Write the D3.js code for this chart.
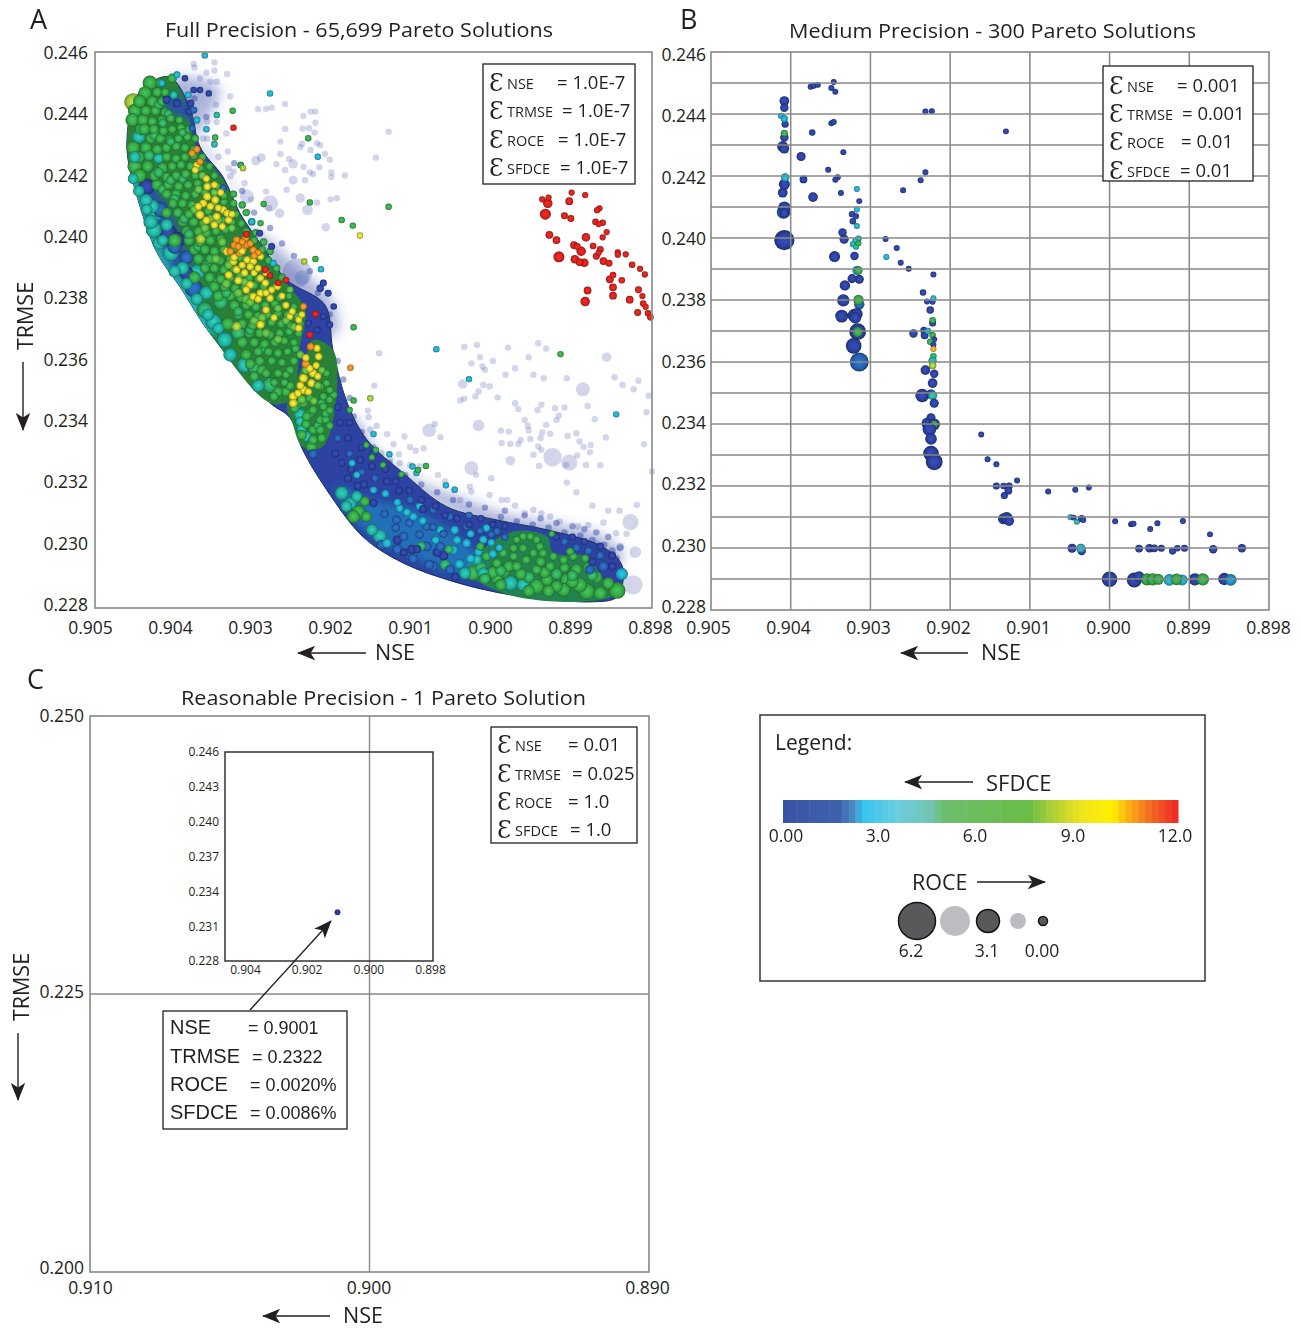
<!DOCTYPE html>
<html>
<head>
<meta charset="utf-8">
<script src="https://cdn.jsdelivr.net/npm/d3@7"></script>
<style>
body { margin: 0; background: white; }
text { font-family: "Open Sans", sans-serif; fill: #231f20; }
text.arial { font-family: "Liberation Sans", Arial, sans-serif; }
</style>
</head>
<body>
<script>
// values are nse x 1000, trmse x 1000, roce %, one array per sfdce level
const sfdceDeep = 0.4, sfdceBlue = 1.6, sfdceCyan = 2.8, sfdceTeal = 3.8, sfdceTealGreen = 4.6, sfdceSea = 4.9
const sfdceGreen = 5.5, sfdceLeaf = 7.2, sfdceLime = 8, sfdceYellow = 9, sfdceOrange = 10.4, sfdceRed = 11.8

const fullGreen = [
[904.31,245,2.2],[904.18,245,.8],[904.03,245.15,.8],[904.37,244.67,2],[904.22,244.7,1],[904.12,244.7,.6],
[904.44,244.4,1.8],[904.28,244.4,1.4],[904.16,244.4,.8],[904.5,244.1,2],[904.36,244.1,1.2],[904.24,244.1,1],[904.12,244.05,.7],
[904.53,243.8,2],[904.4,243.8,1.5],[904.28,243.75,1],[904.16,243.8,.8],[904.05,243.85,.6],[903.94,243.8,.5],
[904.38,243.5,1.4],[904.26,243.5,1],[904.14,243.45,.9],[904.03,243.5,.7],[903.92,243.55,.6],[903.82,243.5,.5],
[904.3,243.2,1.2],[904.18,243.2,1],[904.06,243.15,.9],[903.95,243.2,.7],[903.84,243.25,.6],[903.74,243.2,.4],
[904.52,242.9,2],[904.36,242.9,1.5],[904.22,242.85,1.1],[904.1,242.9,.9],[903.98,242.95,.8],[903.87,242.9,.7],[903.76,242.85,.5],
[904.45,242.6,1.6],[904.1,242.6,.9],[903.98,242.55,.8],[903.87,242.6,.7],[903.76,242.65,.6],[903.65,242.6,.4],
[904.5,242.3,2.2],[904.34,242.3,1.5],[904.15,242.25,1.2],[904.03,242.3,.8],[903.92,242.35,.8],[903.8,242.3,.7],[903.68,242.25,.5],[903.56,242.3,.4],
[904.44,242,2],[904.25,242,1.3],[904.1,241.95,1],[903.98,242,.8],[903.86,242.05,.8],[903.74,242,.6],[903.62,241.95,.5],[903.5,242,.4],
[904.22,241.7,1.4],[904.08,241.7,1],[903.95,241.65,.9],[903.83,241.7,.7],[903.71,241.75,.6],[903.58,241.7,.5],[903.46,241.65,.4],
[904.1,241.4,1],[903.98,241.4,1],[903.86,241.35,.8],[903.74,241.4,.7],[903.62,241.45,.6],[903.5,241.4,.5],[903.38,241.35,.4],[903.26,241.4,.3],
[904.02,241.1,.9],[903.9,241.1,.9],[903.78,241.05,.8],[903.5,241.1,.6],[903.38,241.15,.5],[903.26,241.1,.4],[903.15,241.05,.3],
[904.1,240.8,1.2],[903.96,240.8,1],[903.82,240.75,.8],[903.7,240.8,.8],[903.58,240.85,.7],[903.35,240.8,.5],[903.23,240.75,.4],[903.1,240.8,.3],
[903.9,240.5,1],[903.76,240.5,1],[903.64,240.45,.8],[903.52,240.5,.7],[903.4,240.55,.6],[903.28,240.5,.5],[903.16,240.45,.4],[903.03,240.5,.3],
[903.85,240.2,1.1],[903.7,240.2,1],[903.6,240.15,.9],[903.48,240.2,.7],[903.36,240.25,.6],[903.1,240.2,.4],[902.98,240.15,.3],
[904,239.9,2],[903.82,239.9,1.2],[903.68,239.85,1.1],[903.55,239.9,1],[903.42,239.95,.8],[903,239.9,.4],[902.88,239.85,.3],
[903.75,239.6,1.3],[903.62,239.6,1],[903.5,239.55,.9],[903.38,239.6,.8],[903.25,239.65,.7],[902.9,239.6,.4],[902.8,239.55,.3],
[903.7,239.3,1.2],[903.55,239.3,1],[903.43,239.25,.9],[903.3,239.3,.8],[903.18,239.35,.7],[903.06,239.3,.6],[902.82,239.25,.4],
[903.62,239,1],[903.5,239,.9],[903.38,238.95,.8],[903.26,239,.7],[903.14,239.05,.6],[902.72,239,.4],
[903.75,238.7,1.6],[903.56,238.7,1.2],[903.42,238.65,.9],[903.3,238.7,.8],[903.18,238.75,.7],[903.06,238.7,.6],[902.95,238.65,.5],[902.65,238.7,.4],
[903.5,238.4,1.2],[903.37,238.4,1],[903.24,238.35,.8],[903.12,238.4,.7],[903,238.45,.6],[902.88,238.4,.6],[902.76,238.35,.4],
[903.45,238.1,1.4],[903.3,238.1,1.1],[903.17,238.05,.9],[903.05,238.1,.8],[902.93,238.15,.7],[902.8,238.1,.6],[902.68,238.05,.5],[902.56,238.1,.3],
[903.25,237.8,1.2],[903.1,237.8,.9],[902.98,237.75,.8],[902.86,237.8,.7],[902.74,237.85,.6],[902.62,237.8,.5],[902.5,237.75,.4],
[903.2,237.5,1],[903.07,237.5,.9],[902.95,237.45,.8],[902.83,237.5,.7],[902.7,237.55,.6],[902.58,237.5,.5],[902.46,237.45,.4],
[903.33,237.2,1.8],[903.15,237.2,1],[903.02,237.15,.9],[902.9,237.2,.8],[902.78,237.25,.7],[902.66,237.2,.6],[902.54,237.15,.5],[902.42,237.2,.4],
[903.06,236.9,1],[902.93,236.9,.9],[902.8,236.85,.8],[902.68,236.9,.7],[902.56,236.95,.6],[902.44,236.9,.5],
[903.15,236.6,1.4],[903,236.6,1],[902.87,236.55,.8],[902.74,236.6,.7],[902.62,236.65,.6],[902.5,236.6,.5],
[902.95,236.3,.8],[902.82,236.3,.7],[902.7,236.25,.7],[902.58,236.3,.5],[902.93,236,.9],[902.78,236,.7],[902.65,235.95,.6],
[902.85,235.6,.8],[902.7,235.6,.7],[902.6,235.55,.5],[902.75,235.3,.6],[902.62,235.3,.5],
[902.09,235.6,.4],[902.17,235.17,.5],[902.05,235.06,.4],[902.3,234.79,.6],[902.13,234.85,.5],[902.38,234.63,.8],[902.26,234.41,.7],[902.13,234.52,.5],
[902.49,234.47,.8],[902.34,234.2,.8],[902.17,234.09,.6],[902.26,233.77,.8],[902.17,233.77,.7],[902.28,233.23,1.4],[902.26,233.44,.9],[902.05,234.74,.4],[902.09,235.28,.4],
[901.75,234.72,.05],[901.8,234.41,.05],[901.59,233.28,.05],[901.47,233.12,.05],[901.52,232.88,.05],[901.38,232.63,.05],[900.84,232.6,.05],[900.94,232.47,.05],[901.15,232.33,.05],[899.15,236.22,.05],[899.26,230.4,.1],
[903.27,244.1,.05],[903.49,243.23,.05],[903.17,242.34,.05],[902.32,243.21,.05],[902.88,241.08,.05],[902.3,241.13,.05],[902.92,240.46,.05],[901.9,240.56,.05],[901.76,240.38,.05],[902.23,239.3,.05],[901.31,240.99,.05],[901.75,237.09,.05],
[901.69,231.12,1.8],[901.61,231.45,1],[901.75,230.96,1.8],[901.59,230.96,1.2],
[900.25,229.13,2.4],[899.87,229.18,2],[899.45,228.7,2.4],[899.95,228.97,1.6],[899.32,228.91,1.6],[899.07,228.91,2],[898.91,228.75,2.4],[898.82,228.54,2.8],[898.65,228.48,2],[899.11,228.59,2],[898.44,228.57,2.8],
[899.7,230.21,.4],[899.62,230.32,.5],[899.53,230.32,.4],[899.45,230.21,.5],[899.41,229.99,.6],[899.62,229.94,.6],[899.74,229.94,.5],[899.49,229.78,.6],[899.37,229.78,.6],[899.58,229.56,.7],[899.74,229.67,.6],[899.87,229.78,.7],[900.08,229.67,.8],[900.16,229.99,.6],[899.95,229.45,.9],[899.24,229.67,.6],[899.11,229.56,.7],[898.99,229.67,.6],[898.84,229.61,.5],[899.03,229.83,.5],[899.28,229.35,.9],[899.45,229.24,1],[899.7,229.35,1],
[903.1,236.2,1.3],[903.05,235.9,1.2],[902.9,235.7,1.2],[903,235.5,1],[902.7,235,1],[902.6,235,.8],[902.75,234.85,.8],[902.55,235.2,.7],[902.55,235.7,.7],[902.5,236,.6],[902.48,236.4,.6],
[902,234.9,.5],[902.1,234.1,.6],[902.05,234.4,.5],[902.15,233.5,.8],[902.05,233.9,.5],[902.35,233.95,.9],[902.4,233.6,1],
[900,229.15,1.6],[899.8,229.35,1.4],[899.65,229.1,1.5],[899.35,229.15,1.4],[899.2,228.7,1.6],[899,228.85,1.7],[898.95,229.25,1.4],[898.8,229.3,1.3],[898.7,229,1.6],[898.55,228.8,1.6],[899.3,228.55,1.6],[899.55,228.55,1.6],[899.9,228.75,1.5],[899.4,229.5,1],[899.1,229.3,1]
]
const fullLeaf = [[903.65,242,.5],[903.7,241.55,.6],[903.5,241.45,.5],[903.75,240.9,.7],[903.62,240.3,.7],[903.45,240.55,.6],[903.28,240.3,.5],[903.4,239.85,.7],[903.48,239.3,.8],[903.32,239.1,.7],[903.12,238.55,.6],[903.35,238.5,.8],[903.2,238.2,.8],[903.05,237.9,.7],[902.9,237.4,.7],[902.7,237.7,.5],[902.6,237.3,.5],[902.5,237.1,.5],[903,237.3,.8],[902.85,236.9,.7],[902.7,236.7,.6],[902.35,235.7,.6],[902.2,235.2,.5],[902.4,234.75,.7],[902.25,234.7,.5],[902.15,235.7,.4],[902.42,236.2,.5],[903.1,238,.8],[902.55,238.3,.4],[903.55,240.6,.6]]
const fullSea = [[904.42,243.5,1.6],[904.25,243.3,1.1],[904.32,242.65,1.3],[904.2,242.1,1.1],[904.05,241.85,.9],[903.9,241.9,.8],[904.15,241.55,1],[904,241.25,.9],[903.88,240.6,.9],[903.82,240.1,1],[903.7,239.7,1.1],[903.6,239.1,1],[903.52,238.55,1.2],[903.35,238.2,1],[903.2,237.6,.9],[903.05,237,.9],[902.9,236.4,.8],[904.05,243.1,.7],[903.9,243.4,.5],[904.15,243.7,.7],[904.2,244.3,.8],[904.08,244,.6],[902.45,234.6,.9],[902.3,234.3,.9],[902.2,233.9,.7],[902.1,234.3,.5],[902.15,234.65,.5],[899.9,229.2,1.3],[899.55,229,1.5],[899.2,229.1,1.4],[899,229.05,1.3],[898.75,229.05,1.3],[900.15,229.3,1.6],[900.1,228.95,1.4]]
const fullLime = [[904.52,244.38,3],[903.14,242.24,.05],[903.67,239.95,1],[903.22,237.11,.9],[902.37,239.22,.05],[901.54,234.79,.05]]
const fullYellow = [
[903.72,242.34,.3],[903.74,242.18,.3],[903.59,241.64,.4],[903.59,241.32,.6],[903.64,241.1,.5],[903.49,241.21,.5],[903.39,240.89,.5],[903.68,240.73,.7],[903.47,240.67,.5],[903.32,240.56,.4],[903.34,240.78,.4],
[903.34,239.54,.6],[903.26,239.22,.5],[903.22,238.95,.5],[903.09,239.27,.4],[903.01,239.22,.4],[902.92,239.38,.3],[903.05,239.05,.4],[903.32,238.78,.5],[903.05,238.46,.5],[902.92,238.68,.4],[902.92,238.19,.5],[902.8,238.03,.4],[902.71,238.41,.4],[902.86,238.52,.4],[903.01,238.08,.5],[902.92,237.17,.6],[902.44,237.33,.3],[902.44,237.06,.4],[902.55,237.44,.3],
[902.26,235.6,.6],[902.38,235.44,.8],[902.19,236.14,.4],[902.51,234.85,.7],[902.38,235.06,.7],[902.28,235.28,.6],[902.51,234.63,.6],[902.21,236.41,.4],[901.67,240.06,.05],
[903.6,241.9,.3],[903.5,241.7,.3],[903.55,241,.4],[903.45,240.95,.3],[903.5,240.4,.4],[903.6,240.55,.5],[903.4,240.35,.3],[903.28,240.75,.3],[903.7,241,.4],[903.42,241.45,.3],
[903.25,239.35,.4],[903.15,239.1,.3],[903.12,238.85,.4],[903.2,238.6,.5],[903,238.85,.3],[902.85,238.85,.3],[902.95,239,.3],[903.1,238.3,.4],[902.95,238,.4],[902.85,238.2,.3],[902.78,238.3,.3],[902.65,238.1,.3],[903.15,239.55,.3],[902.6,237.8,.3],[902.52,237.6,.3],[902.4,237.5,.2],[902.85,237.65,.4],[902.75,237.4,.3],
[902.3,235.75,.4],[902.22,235.85,.3],[902.42,235.2,.5],[902.32,235,.4],[902.45,234.95,.4],[902.2,235.5,.3],[902.35,236.1,.4]
]
const fullOrange = [[903.72,242.85,.2],[903.78,242.72,.2],[903.68,242.45,.2],[903.22,239.92,.3],[903.11,239.97,.3],[903.09,239.76,.3],[903.01,239.59,.3],[903.13,239.65,.4],[903.3,239.54,.3],[903.18,239.49,.4],[902.38,237.76,.2],[902.35,235.9,.6],[902.29,236.46,.4],[901.79,235.78,.1],[903.15,239.85,.2],[903.05,239.8,.2],[903.25,239.75,.3],[902.95,239.5,.2],[903.2,239.7,.2],[903,239.4,.2]]
const fullRed = [
[903.26,243.55,.05],[903.1,240.1,.2],[902.86,238.95,.2],[902.8,238.76,.1],[902.6,238.62,.1],[902.7,238.52,.1],[902.23,237.52,.2],[902.3,236.84,.2],
[899.38,241.23,0],[899.3,241.29,0],[899.31,241.1,.85],[899.34,240.75,1.25],[899.04,241.17,.4],[899.01,241.45,0],[898.84,241.37,0],[899.1,240.7,.2],[899.02,240.61,.2],[898.66,240.94,0],[898.69,240.88,0],
[898.71,240.5,.1],[898.62,240.47,.1],[898.67,240.43,0],[898.57,240.17,0],[898.62,240,0],[899.29,240.08,.4],[899.2,239.91,.4],[898.83,240,.6],[898.98,239.75,.4],[898.89,239.55,.85],[898.94,239.7,.2],[898.74,239.72,.1],[898.65,239.61,.2],[898.67,239.5,0],[898.7,239.39,.2],
[899.17,239.37,1.25],[898.97,239.29,.6],[898.91,239.2,.4],[898.85,239.18,.6],[898.61,239.23,.4],[898.54,239.16,.2],[898.43,239.51,0],[898.43,239.44,0],[898.33,239.45,0],[898.25,239.11,.1],[898.15,238.98,0],[898.09,238.8,0],[898.49,238.78,.1],[898.53,238.64,.4],[898.38,238.61,.1],[898.49,238.38,.4],[898.49,238.11,.4],[898.81,238.28,.4],[898.84,237.92,.85],[898.17,238.3,.2],[898.12,238.1,0],[898.28,237.98,.4],[898.11,237.86,.1],[898.08,237.75,0],[898.18,237.57,.2],[898.05,237.54,.1],[898.02,237.41,.1]
]
const fullTeal = [
[904.45,243.26,2],[904.2,242.56,1.2],[904.26,240.78,3],[904.26,240.24,2.6],[904.05,239.49,2.6],[903.72,238.86,2.6],[903.51,237.27,2.6],[903.37,236.68,2.5],[903.12,235.87,2.5],[904.36,241.2,1.8],[904.3,240.5,2.2],[904.1,240.4,1.6],[903.9,239,1.8],[903.6,238.2,2],[903.3,236.2,2],[902.95,235.2,1.8],[904.5,242.6,1.5],[904.28,241,2],
[902.42,234.04,1],[902.4,233.82,1.2],[902.34,233.55,1.2],[902.42,234.25,1.8],
[901.9,231.72,2],[901.79,231.39,1.6],[901.71,231.61,1.4],[901.84,231.29,1.4],[901.42,230.32,2],[901.52,230.53,1.5],
[899.78,228.81,2.4],[899.62,228.75,1.8],[900.2,229.56,1],[900.12,229.13,1.4],[900.35,229.13,1.6],[904.01,244.61,.5],[903.5,243.02,.05],[903.47,243.96,.05],
[904.2,239.8,1.6],[904,238.9,1.6],[903.85,238.5,1.5],[903.72,238,1.6],[903.58,237.5,1.6],[903.45,237.05,1.5],[904.35,240.9,1.4],[904.45,241.5,1.4],[904.52,241.9,1.2],[904.15,239.9,1.4]
]
const fullTealGreen = [[903.62,237.65,2.6],[902.8,235.22,2.5],[903.42,237.9,2.2],[903.2,236.9,2],[903,235.8,2],[900.6,229.4,1.2],[900.9,230,.8],[900.55,229.9,.7]]
const fullCyan = [
[904.16,244.99,.3],[903.97,245.26,.2],[903.83,244.61,.2],[903.72,243.8,.2],[903.03,240.51,.2],[902.76,239.16,.2],[902.16,238.97,.05],
[903.62,245.89,.05],[902.8,244.66,.05],[902.2,242.61,.05],[903.6,243.5,.05],[903.17,242.34,.05],
[900.71,236.38,.05],[900.3,235.41,.05],[898.45,234.27,.05],[901.5,233.63,.05],[901.3,232.98,.05],[901.01,232.58,.05],[900.96,232.37,.05],[900.59,231.97,.05],[900.48,231.83,.05],
[901.17,231.23,.5],[900.92,231.29,.5],[901,230.96,.6],[900.66,230.53,.6],[900.48,230.53,.7],[900.08,230.59,.5],[900.12,230.21,.6],[900.33,230.1,.7],[901.77,232.69,.3],[901.71,232.31,.3],[898.38,229.1,1.6],[900.5,229.88,.9],[901.33,230.1,.9],
[901.5,231.82,.3],[901.35,231.7,.4],[901.2,231.42,.4],[901.08,231.1,.5],[900.88,230.82,.5],[900.72,230.2,.5],[900.45,230.2,.6],[900.28,230.4,.4],[900.18,229.82,.7],[900,229.75,.6],[900.02,230.12,.4],[899.92,229.95,.4],[900.28,229.6,.8],[900.42,229.42,.9]
]
const fullBlue = [
[903.76,238.35,3],[904.18,240.9,2.4],[904,239.7,2.2],[903.85,239.35,2],[903.76,244.12,.3],[903.39,241.59,.3],[903.78,243.53,.2],
[901.04,231.5,.5],[900.75,231.18,.5],[901.21,230.85,.7],[900.83,230.64,.7],[900.54,230.96,.5],[900.33,230.64,.5],[899.95,230.48,.5],[900.66,229.99,.8],[900.83,229.99,.9],[900.75,229.35,1],[901.12,230.32,.8],[900.54,229.24,1],[898.78,229.24,.9],[898.61,229.35,1],[902.26,232.99,.8],
[901.95,233.5,.3],[901.8,233,.3],[901.65,232.4,.4],[901.48,232.2,.4],[901.36,231.05,.5],[901.22,230.6,.6],[901.05,230.75,.6],[900.92,230.38,.6],[900.75,230.62,.4],[900.62,230.4,.5],[900.3,231,.3],[900.16,230.5,.4],[900.02,230.38,.3],[899.85,230.3,.3],[899.1,230.15,.4],[898.95,229.95,.5],[898.8,229.85,.5],[898.65,229.7,.6],
[901.2,229.9,1],[901,229.6,1],[900.8,229.4,1],[901.4,230.05,1]
]
const fullDeep = [
[904.35,241.64,2.6],[904.08,240.13,3],[903.97,239.92,2.6],[903.85,238.84,2],[904.1,244.45,.5],[903.97,244.34,.5],[903.82,244.07,.4],[903.8,244.34,.4],
[903.87,245.15,.1],[903.76,244.77,.1],[903.68,244.77,.1],[903.57,244.66,.05],[902.93,240.13,.2],[902.78,239.7,.2],
[902.13,238.52,.2],[902.17,238.35,.3],[902.07,238.19,.2],[902.32,237.22,.2],[902.13,237.44,.2],[902.05,237.17,.2],[902.21,237,.2],[902,237.76,.1],
[901.95,234.5,.3],[901.92,234,.3],[901.98,233,.4],[901.8,234,.3],[901.82,233.5,.4],[901.78,232.5,.5],[901.82,232.2,.5],[901.65,233.2,.3],[901.67,232.8,.4],[901.62,232,.5],[901.5,233,.3],[901.52,232.6,.4],[901.5,231.4,.6],[901.35,232.5,.3],[901.33,232.1,.4],[901.22,232.1,.3],[901.18,231.8,.4],[901.2,230.2,.8],[901.05,231.8,.3],[901.02,229.9,.7],[900.9,231.5,.3],[900.88,231.2,.4],[900.72,231.3,.3],[900.6,231,.3],[900.62,229.7,.9],[900.45,230.9,.3],[900.47,229,.6],[900.3,230.7,.3],[900.15,230.9,.2],[900,230.7,.2],[899.85,230.65,.2],[900.7,229.8,.8],[900.95,229.9,.5],[901.12,229.8,.4],[899.2,230.3,.2],[899,230.3,.2],[898.85,230.15,.3],[898.65,230,.3],[898.5,229.7,.4],[898.5,229.35,.5],[898.75,229.5,.4],[901.9,232.7,.3],[901.7,231.95,.4]
]

const fullFaint = [
[903.76,245.61,.05],[903.5,245.66,.05],[903.5,245.4,.05],[903.6,245.33,.05],[903.34,245.29,.05],[903.75,245.5,.05],[903.47,245.04,.05],[903.55,245.04,.05],[903.3,244.56,.05],[903.57,244.69,.05],[903.68,245.15,.05],[903.48,244.29,.05],[903.47,243.73,.05],[903.59,243.75,.05],[903.73,243.75,.05],[903.64,243.2,.05],[903.59,243.2,.05],[903.35,243.36,.05],[903.33,242.78,.05],[903.45,242.61,.05],[903.32,242.24,.05],[903.26,242.13,.05],[903.3,241.97,.05],[903.12,241.75,.05],
[903.09,241.32,2],[903.04,241.23,.05],[903.08,240.83,.05],[902.8,241.1,2.6],[902.81,240.94,.05],[902.68,240.78,.85],[902.85,241.48,.05],[902.59,241.54,.05],[902.42,241.27,.85],[902.33,240.89,1.2],[902.21,241.13,.05],[902.04,241.23,.05],[901.96,241.27,.05],[902.1,240.33,.6],
[902.61,244.32,.05],[902.95,244.15,.05],[902.85,244.16,.05],[902.78,244.2,.05],[902.38,243.93,.05],[902.29,244.07,.05],[902.23,244.07,.05],[902.23,243.71,.05],[902.61,243.51,.05],[902.39,243.52,.05],[902.31,243.53,.05],[902.24,243.39,.05],[902.67,243.1,.05],[902.42,242.92,.05],[902.4,243.02,.05],[902.29,242.83,.05],[902.21,243.05,.05],[902.17,242.98,.05],[902.67,242.7,.05],[902.56,242.54,.05],[902.98,242.48,.85],[902.91,242.58,.7],[902.72,242.37,.05],[902.51,242.38,.85],[902.61,242.18,.05],[902.38,242.28,.05],[902.3,242.11,.05],[902.26,242.05,.05],[902.18,242.27,.05],[902.11,242.7,.05],[902.05,242.51,.05],[902.03,242.1,.05],[902.03,241.95,.05],[901.86,242,.05],[902.51,241.85,.7],[902.36,241.85,.05],[901.47,242.58,.05],[901.31,243.42,.05],[902.46,238.84,6],[902.4,238.7,2],
[901.43,236.25,.05],[900.36,236.46,.05],[900.2,236.52,.05],[899.81,236.43,.05],[899.43,236.57,.05],[899.33,236.4,.05],[898.57,236.12,.85],[900.27,235.92,.05],[900.16,236.12,.05],[900.13,235.82,.05],[900.1,235.71,.05],[900,236,.05],[899.72,235.76,.05],[899.55,236.12,.05],[899.84,235.55,.05],[899.49,235.55,.05],[899.36,235.44,.05],[899.07,235.44,.05],[900.38,235.25,.85],[900.12,235.22,.05],[900.04,235.17,.05],[899.94,234.82,.05],[900.18,235.01,.05],[900.22,234.85,.05],[900.41,234.72,.05],[900.36,234.78,.05],[898.87,235.08,2],[898.47,235.47,.05],[898.37,235.22,.05],[898.23,235.08,.05],[898.17,235.36,.05],[898.04,234.87,.05],[899.72,234.63,.05],[899.68,234.44,.05],[899.44,234.41,.05],[899.39,234.58,.05],[899.22,234.47,.05],[899.1,234.49,.05],[898.81,234.54,.05],[898.07,234.34,.05],[898.72,234.11,.05],[899.6,234.09,.05],[899.56,233.9,.05],[899.33,233.93,.05],[899.2,234.09,.05],[899.17,234.23,.05],[900.73,233.96,.05],[900.8,233.75,2],[900.66,233.53,.05],[900.18,233.91,1.4],[899.9,233.74,.05],[899.8,233.71,.05],[899.55,233.75,.05],[899.38,233.68,.05],[899.28,233.64,.05],[899.06,233.57,.05],[898.95,233.66,.05],[898.58,233.52,.05],[899.89,233.34,.05],[899.78,233.31,.05],[899.68,233.31,.05],[899.65,233.44,.05],[899.53,233.47,.05],[899.4,233.5,.05],[899.43,233.23,.05],[899.39,233.12,.05],[898.91,233.39,.05],[898.86,233.21,.05],[898.77,233.28,.05],[898.78,233.04,.05],[898.1,233.3,.05],[899.49,232.96,.05],[899.78,232.77,.85],[899.25,232.88,3.2],[899.04,232.71,2.6],[899.08,232.63,.05],[899.42,232.6,.05],[898.94,232.94,.05],[898.83,232.63,.05],[898.65,232.62,.05],[900.27,232.53,2],[900.21,232.31,.05],[900.02,232.2,.05],[899.07,232.06,.05],[898.95,231.75,.05],[898.75,231.31,.05],[898.19,231.34,.05],[898.55,231.15,.05],[898.41,231.15,.05],[898.27,230.78,2.6],[898.21,229.81,1.4],[898,232.42,.05],
[901.33,233.63,.05],[901.11,233.55,.05],[901.25,233.3,.05],[901.18,232.98,.05],[901.04,233.21,.05],[900.97,233.09,.05],[900.87,233.17,.05],[901.57,234.39,.05],[901.49,235.2,.05],[901.56,234.18,.05],
[900.69,232.31,.05],[900.6,232.1,.05],[900.48,231.83,.05],[900.41,231.5,.05],[900.29,231.93,.05],[900.27,231.77,.05],[900.04,231.66,.05],[899.89,231.5,.05],[899.82,231.5,.05],[899.72,231.32,.05],[899.6,231.07,.05],[899.49,231.18,.05],[899.39,231.07,.05],[899.28,230.96,.05],[899.16,230.8,.05],[898.93,230.64,.05],[898.8,230.69,.05],[898.61,230.77,.05],[898.45,230.42,.05],[898.32,230.4,.05],[898.4,229.99,.4],[898.47,229.56,.4],[898.7,230.1,.05],[900.92,232.58,.05],[901.04,232.63,.05],[901.17,232.69,.05],[901.29,232.8,.05],[901.4,233.01,.05],[901.54,233.77,.05],[901.46,233.9,.05],[898.24,228.75,3.4]
]
// darker fringe of semi transparent points along the upper edge of the cloud
const fullFringe = [[899.9,230.95,.05],[899.7,230.8,.05],[899.5,230.7,.05],[899.3,230.6,.05],[899.1,230.45,.05],[898.9,230.35,.05],[898.75,230.2,.1],[898.6,230.05,.1],[898.5,229.85,.2],[898.45,229.6,.3],[898.4,229.95,.2],[898.55,230.3,.05],[898.7,230.45,.05],[898.85,230.55,.05],[899,230.65,.05],[899.2,230.75,.05],[899.4,230.9,.05],[899.6,231,.05],[899.85,231.15,.05],[900.1,231.25,.05],[900.3,231.35,.05],[900.5,231.5,.05],[900.7,231.75,.05],[900.9,232,.05],[901.1,232.3,.05],[901.3,232.7,.05],[901.5,233.2,.05],[901.65,233.7,.05],[901.75,234.2,.05],[901.8,234.8,.05],[901.88,235.4,.05],[901.95,236,.05],[902.2,238.2,.05],[902.05,237.5,.05],[902.3,238.9,.05],[902.5,239.4,.05],[902.65,239.8,.05],[902.8,240.3,.05],[903,240.8,.05],[903.15,241.5,.05],[903.25,242.4,.05],[903.5,243,.05],[903.6,243.9,.05],[903.75,244.5,.05]]

// outlines of the dense parts of the full-precision cloud, [nse, trmse]
const cloudOutline = [[904.31,245],[904.06,245.19],[903.81,244.22],[903.68,242.93],[903.39,241.95],[903.18,240.79],[902.89,239.69],[902.59,238.62],[902.11,237.81],[902.01,236.36],[901.83,234.64],[901.58,233.44],[901.13,232.38],[900.58,231.28],[899.95,230.85],[899.32,230.53],[898.62,229.98],[898.37,229.33],[898.44,228.36],[898.74,228.2],[899.25,228.27],[899.79,228.43],[900.45,228.82],[901.13,229.46],[901.63,230.3],[902.09,231.83],[902.39,233.12],[902.55,234.16],[902.8,234.64],[903.56,236.91],[903.93,238.39],[904.22,239.5],[904.47,241.31],[904.59,242.6],[904.59,243.48],[904.52,244.38]]
const upperBandOutline = [[904.31,245],[904.06,245.19],[903.87,244.45],[903.71,242.83],[903.4,241.92],[903.18,240.72],[902.9,239.66],[902.61,238.56],[902.36,237.65],[902.42,236.52],[902.55,234.74],[902.8,234.64],[903.56,236.91],[903.93,238.39],[904.22,239.5],[904.47,241.31],[904.59,242.6],[904.59,243.48],[904.52,244.38]]
const wedgeOutline = [[902.59,234.51],[902.36,236.03],[902.26,236.68],[902.01,236.36],[901.96,235.06],[902.14,233.22],[902.39,233.22],[902.53,234.09]]
const lowerGreenOutline = [[900.33,229.24],[900.08,229.99],[899.74,230.48],[899.32,230.32],[899.24,229.78],[898.82,229.67],[898.61,228.91],[898.44,228.48],[898.82,228.21],[899.87,228.48]]
const hazeLower = [[901.75,234.2],[901.42,233.01],[900.96,232.15],[900.45,231.61],[899.87,231.07],[899.24,230.75],[898.61,230.32],[898.36,229.67],[898.61,229.13],[899.45,229.99],[900.29,230.85],[901.12,232.04],[901.84,233.98]]
const hazeUpper = [[904.14,244.99],[903.85,245.2],[903.43,244.77],[903.64,243.58],[903.68,242.83],[903.3,241.86],[903.09,240.56],[902.71,239.7],[902.46,239.06],[902,237.87],[901.96,236.9],[902.34,236.9],[903.39,242.07]]
const lowerTealPatch = [[901.96,231.93],[901.54,231.5],[901.12,231.29],[900.62,230.64],[900.29,229.99],[900.08,229.24],[900.33,229.02],[900.92,229.56],[901.42,230.21],[901.71,230.75]]
const edgeTealPatch = [[904.54,242.18],[904.35,240.78],[904.1,239.38],[903.8,238.19],[903.47,236.9],[903.68,236.9],[904.1,238.62],[904.43,240.35],[904.6,241.86]]
const edgeDeepPatch = [[904.37,241.75],[904.16,241.32],[903.95,240.24],[903.8,238.62],[904.01,238.84],[904.22,239.92],[904.39,241]]
const topBluePatch = [[904.12,244.56],[903.8,244.34],[903.72,243.8],[903.93,243.91],[904.12,244.23]]

// medium precision, [nse, trmse, roce, sfdce]
const mediumPts = [
[903.75,244.88,.05,.4],[903.71,244.91,.05,.4],[903.66,244.94,.05,.4],[903.46,245.03,.05,.4],[903.49,244.84,.05,.4],[903.44,244.72,.05,.4],
[904.08,244.42,1.2,.4],[904.08,244.2,.8,.4],[904.12,243.94,.2,2.8],[904.07,243.67,.4,.4],[904.08,243.24,.8,.4],[904.08,243.85,.4,2.8],[904.08,243.38,.4,5.5],[904.1,242.95,1.6,.4],[904.08,242.88,1.2,.4],
[903.49,243.7,.05,.4],[903.46,243.74,.05,.4],[903.73,243.4,.2,.4],[902.31,244.08,.05,.4],[902.23,244.09,.05,.4],[901.3,243.44,.05,.4],
[903.87,242.63,1,.4],[903.34,242.77,.05,.4],[903.53,242.2,.05,.4],[903.41,241.96,.05,.4],[903.44,241.88,.05,.4],[903.84,241.89,.6,.4],
[904.08,241.73,1.6,.4],[904.07,241.95,.8,2.8],[904.1,241.46,1.2,.4],[903.72,241.32,1.2,.4],[903.37,241.45,.05,.4],[903.17,241.58,.05,2.8],[903.14,241.19,.05,.4],[903.17,240.92,.05,2.8],[903.23,240.77,.2,.4],[903.18,240.7,.05,.4],[903.22,240.54,.2,.4],[903.17,240.39,.05,2.8],
[904.09,240.84,2.4,1.6],[904.08,240.98,2,.4],[904.08,240.8,1.2,.4],
[903.35,240.18,.8,.4],[903.33,239.96,1,.4],[903.15,239.98,.2,3.8],[903.19,239.9,.05,2.8],[903.22,239.8,.05,3.8],[903.18,239.72,.05,3.8],[903.15,239.83,.05,5.5],
[904.08,239.93,4.4,.4],[903.45,239.4,1.6,.4],[903.2,239.42,.8,.4],[902.81,239.97,.05,.4],[902.67,239.68,.05,.4],[902.8,239.39,.05,2.8],[902.62,239.2,.05,.4],[902.52,239.01,.05,.4],[902.21,238.82,.05,.4],
[903.17,238.95,1,2.8],[903.15,238.95,.8,5.5],[903.14,238.67,1,.4],[903.23,238.69,1,.4],[903.32,238.47,1.4,.4],
[902.34,238.24,.2,.4],[902.29,237.95,.05,.4],[902.22,237.94,.05,.4],[902.21,238.06,.05,2.8],[902.25,237.68,.5,.4],
[903.34,237.99,2,.4],[903.14,237.86,1.4,1.6],[903.15,238,1.4,5.5],[903.36,237.48,2.2,.4],[903.2,237.5,2.4,.4],[903.17,237.55,1.8,.4],[903.19,237.43,1.8,.4],
[902.22,237.26,.4,.4],[902.22,237.35,.2,5.5],[903.16,236.98,3.4,.4],[903.16,236.97,1.4,5.5],[903.21,236.52,3,.4],[903.14,236,4,1.6],
[902.46,236.92,.8,.4],[902.33,237.02,.4,.4],[902.32,236.86,.6,.4],[902.28,237,.2,2.8],[902.22,236.86,.2,5.5],[902.2,236.73,.05,.4],[902.25,236.65,.2,5.5],[902.21,236.56,.05,.4],[902.21,236.42,.05,10],[902.21,236.19,.2,4.6],[902.22,236.03,.8,3.8],[902.22,235.89,.5,8],[902.2,235.62,.8,.4],[902.31,235.74,1.2,.4],[902.22,235.32,1.2,.4],[902.35,234.92,2.4,.4],[902.24,234.96,1.2,.4],[902.22,234.92,1,3.8],[902.2,234.67,1,.4],[902.24,234.2,1,.4],[902.29,234.02,1.6,.4],[902.2,233.99,1.8,.4],[902.2,233.99,.6,5.5],[902.26,233.83,2.4,.4],[902.24,233.52,1.8,.4],[902.24,233.05,3,.4],[902.2,232.78,3.4,.4],
[902.59,241.54,.05,.4],[902.37,241.86,.05,.4],[902.31,242.12,.05,.4],
[901.61,233.66,.05,.4],[901.53,232.86,.05,.4],[901.42,232.7,.05,.4],[901.16,232.18,.05,.4],[901.42,232,.4,.4],[901.33,232,.2,.4],[901.26,232,.4,.4],[901.27,231.85,.6,.4],[901.32,231.69,.4,.4],
[900.77,231.82,.05,.4],[900.43,231.88,.05,.4],[900.26,231.95,.05,.4],[901.33,230.94,1.6,.4],[901.29,230.96,2,.4],[901.26,230.87,1.2,.4],[900.49,230.99,.05,2.8],[900.45,230.98,.05,.4],[900.41,230.85,0,3.8],[900.35,230.95,.4,.4],[900.33,230.9,.05,.4],
[899.93,230.86,.05,.4],[899.73,230.77,.05,.4],[899.7,230.78,.05,.4],[899.49,230.61,.05,.4],[899.4,230.8,.05,.4],[899.08,230.87,.05,.4],[898.74,230.44,.05,.4],
[900.47,229.99,1,.4],[900.35,229.9,.8,.4],[900.36,229.99,1,2.8],[899.63,229.98,.6,.4],[899.5,229.99,.8,.4],[899.44,229.99,.6,.4],[899.35,229.99,.4,.4],[899.21,229.9,.4,.4],[899.15,229.99,.2,.4],[899.06,229.99,.4,.4],[898.7,229.96,.8,.4],[898.34,229.99,.8,.4],
[900,228.99,3,.4],[899.69,228.97,2.8,.4],[899.63,229.07,1.6,.4],[899.53,228.99,2,5.5],[899.46,228.99,2,5.5],[899.39,228.99,1.6,5.5],[899.25,228.97,1.8,2.8],[899.09,228.97,1.6,2.8],[899.16,228.99,1.8,5.5],[898.93,228.99,2,.4],[898.83,228.99,2,5.5],[898.56,229,2,.4],[898.48,228.97,1.8,2.2]
]

// reasonable precision, the single solution shown in the inset
const reasonablePts = [[901,232.2,.002,.0086]]

const ticksAX = [905,904,903,902,901,900,899,898]
const ticksAY = [246,244,242,240,238,236,234,232,230,228]
const ticksCX = [910,900,890]
const ticksCY = [250,225,200]
const ticksInsetX = [904,902,900,898]
const ticksInsetY = [246,243,240,237,234,231,228]
const legendSfdceTicks = [0,3,6,9,12]
const legendRoce = [6.2,4.65,3.1,1.55,0]

const epsilonA = [['NSE','= 1.0E-7',557],['TRMSE','= 1.0E-7',562],['ROCE','= 1.0E-7',558],['SFDCE','= 1.0E-7',560]]
const epsilonB = [['NSE','= 0.001',1177],['TRMSE','= 0.001',1182],['ROCE','= 0.01',1181],['SFDCE','= 0.01',1180]]
const epsilonC = [['NSE','= 0.01',568],['TRMSE','= 0.025',572],['ROCE','= 1.0',568],['SFDCE','= 1.0',570]]
const solutionRows = [['NSE','= 0.9001',248],['TRMSE','= 0.2322',252],['ROCE','= 0.0020%',250],['SFDCE','= 0.0086%',250]]

const ballColor = d3.scaleLinear()
    .domain([0,1.5,2.2,3,4,4.6,5.5,7,8,9,10.2,11,12])
    .range(['#2e3a9e','#2a5db0','#1f8fc8','#22b8cc','#25b39a','#2eae6a','#37ab4a','#4db648','#a2c93a','#dfd42e','#f0a020','#e0601c','#d8141e'])
const legendColor = d3.scaleLinear()
    .domain([0,1.6,2.1,2.3,3.4,4.4,4.8,7.4,8,9,9.9,10.3,11,12])
    .range(['#3953a4','#3f62ad','#4a90c8','#33c5f0','#6dcde0','#72c4b0','#6cbd6c','#6abd45','#a6ce39','#f2e41c','#fff200','#fdb913','#f37021','#ed1c24'])
const rMedium = d3.scaleLinear().domain([0, 6.2]).range([2.9, 13])
const rFull = d3.scaleLinear().domain([0, 6.2]).range([3.1, 15])
const rLegend = d3.scaleLinear().domain([0, 6.2]).range([4.5, 18.5])

const svg = d3.select('body').append('svg')
    .attr('width', 1300)
    .attr('height', 1328)

const defs = svg.append('defs')
defs.append('marker')
    .attr('id', 'head')
    .attr('viewBox', '0 0 20 16')
    .attr('refX', 19)
    .attr('refY', 8)
    .attr('markerUnits', 'userSpaceOnUse')
    .attr('markerWidth', 18)
    .attr('markerHeight', 15)
    .attr('orient', 'auto')
    .append('path')
    .attr('d', 'M20,8 L0,0 L5,8 L0,16 Z')
    .attr('fill', '#231f20')

const blurs = [['soft', 0.35], ['patch', 4], ['haze', 6]]
blurs.forEach(b => {
    defs.append('filter')
        .attr('id', b[0])
        .attr('x', '-30%').attr('y', '-30%')
        .attr('width', '160%').attr('height', '160%')
        .append('feGaussianBlur')
        .attr('stdDeviation', b[1])
})

// every ball gets a lit centre and a dark rim
const ballId = s => `ball-${Math.round(s * 10)}`
function ballGradient(s) {
    const c = ballColor(s)
    const grad = defs.append('radialGradient').attr('id', ballId(s))
    grad.append('stop').attr('offset', '0%').attr('stop-color', d3.color(c).brighter(0.5))
    grad.append('stop').attr('offset', '60%').attr('stop-color', c)
    grad.append('stop').attr('offset', '85%').attr('stop-color', d3.color(c).darker(0.5))
    grad.append('stop').attr('offset', '100%').attr('stop-color', d3.color(c).darker(1.6))
}

const xA = d3.scaleLinear().domain([905, 898]).range([95, 652])
const yA = d3.scaleLinear().domain([246, 228]).range([52, 608])
const xB = d3.scaleLinear().domain([905, 898]).range([711, 1269])
const yB = d3.scaleLinear().domain([246, 228]).range([52, 610])
const xC = d3.scaleLinear().domain([910, 890]).range([90, 649])
const yC = d3.scaleLinear().domain([250, 200]).range([716, 1272])
const xInset = d3.scaleLinear().domain([904, 898]).range([245, 430])
const yInset = d3.scaleLinear().domain([246, 228]).range([752, 961])

function frame(x0, y0, x1, y1, color, width) {
    svg.append('rect')
        .attr('x', x0).attr('y', y0)
        .attr('width', x1 - x0).attr('height', y1 - y0)
        .attr('fill', 'none')
        .attr('stroke', color)
        .attr('stroke-width', width)
}

function axisLabels(axis, tx, ty, size) {
    const g = svg.append('g')
        .attr('transform', `translate(${tx}, ${ty})`)
        .call(axis.tickSize(0).tickFormat(d => (d / 1000).toFixed(3)))
    g.select('.domain').remove()
    g.selectAll('text')
        .style('font-family', '"Open Sans", sans-serif')
        .style('font-size', size + 'px')
        .attr('fill', '#231f20')
    return g
}

function label(x, y, str, size, anchor, cls) {
    return svg.append('text')
        .attr('x', x).attr('y', y)
        .attr('text-anchor', anchor || 'start')
        .attr('class', cls || null)
        .style('font-size', size + 'px')
        .text(str)
}

function title(x0, x1, y, str) {
    label(x0, y, str, 20).attr('textLength', x1 - x0).attr('lengthAdjust', 'spacingAndGlyphs')
}

function arrow(x1, y1, x2, y2) {
    svg.append('line')
        .attr('x1', x1).attr('y1', y1)
        .attr('x2', x2).attr('y2', y2)
        .attr('stroke', '#231f20')
        .attr('stroke-width', 1.4)
        .attr('marker-end', 'url(#head)')
}

function epsilonBox(x0, y0, x1, y1, rows, rowY, textX) {
    svg.append('rect')
        .attr('x', x0).attr('y', y0)
        .attr('width', x1 - x0).attr('height', y1 - y0)
        .attr('fill', 'white')
        .attr('stroke', '#231f20')
        .attr('stroke-width', 1.3)
    rows.forEach((r, i) => {
        label(x0 + 6, rowY[i] + 9, '\u0190', 23.5).style('font-family', '"DejaVu Serif", serif')
        label(textX, rowY[i] + 7, r[0], 14.5)
        label(r[2], rowY[i] + 7, r[1], 18.5)
    })
}

function drawBalls(g, pts, x, y, r) {
    g.selectAll(null)
        .data(pts)
        .join('circle')
        .attr('cx', d => x(d[0]))
        .attr('cy', d => y(d[1]))
        .attr('r', d => r(d[2]))
        .attr('fill', d => `url(#${ballId(d[3])})`)
}

// panel A
const outline = d3.line().x(d => xA(d[0])).y(d => yA(d[1])).curve(d3.curveCatmullRomClosed)
defs.append('clipPath').attr('id', 'cloud')
    .append('path').datum(cloudOutline).attr('d', outline)

svg.append('g').attr('filter', 'url(#haze)')
    .selectAll(null)
    .data([hazeUpper, hazeLower])
    .join('path')
    .attr('d', outline)
    .attr('fill', ballColor(sfdceDeep))
    .attr('opacity', 0.4)

const gA = svg.append('g').attr('filter', 'url(#soft)')
gA.selectAll(null)
    .data(fullFaint)
    .join('circle')
    .attr('cx', d => xA(d[0]))
    .attr('cy', d => yA(d[1]))
    .attr('r', d => rFull(d[2]))
    .attr('fill', ballColor(sfdceDeep))
    .attr('opacity', 0.22)
gA.selectAll(null)
    .data(fullFringe)
    .join('circle')
    .attr('cx', d => xA(d[0]))
    .attr('cy', d => yA(d[1]))
    .attr('r', d => rFull(d[2]))
    .attr('fill', ballColor(sfdceDeep))
    .attr('opacity', 0.45)

gA.append('path').datum(cloudOutline)
    .attr('d', outline)
    .attr('fill', ballColor(sfdceDeep))
    .attr('stroke', '#16305a')
    .attr('stroke-width', 1)
gA.append('path').datum(upperBandOutline)
    .attr('d', outline)
    .attr('fill', d3.color(ballColor(sfdceGreen)).darker(0.8))
gA.append('path').datum(wedgeOutline)
    .attr('d', outline)
    .attr('fill', d3.color(ballColor(sfdceGreen)).darker(0.8))
gA.append('path').datum(lowerGreenOutline)
    .attr('d', outline)
    .attr('fill', d3.color(ballColor(sfdceTealGreen)).darker(0.8))

const patches = gA.append('g').attr('clip-path', 'url(#cloud)')
    .append('g').attr('filter', 'url(#patch)')
patches.append('path').datum(lowerTealPatch)
    .attr('d', outline).attr('fill', ballColor(2.2)).attr('opacity', 0.6)
patches.append('path').datum(edgeTealPatch)
    .attr('d', outline).attr('fill', ballColor(3.2))
patches.append('path').datum(edgeDeepPatch)
    .attr('d', outline).attr('fill', ballColor(1))
patches.append('path').datum(topBluePatch)
    .attr('d', outline).attr('fill', ballColor(1))

const fullLevels = [
    [fullDeep, sfdceDeep], [fullBlue, sfdceBlue], [fullCyan, sfdceCyan], [fullTeal, sfdceTeal], [fullTealGreen, sfdceTealGreen], [fullSea, sfdceSea],
    [fullGreen, sfdceGreen], [fullLeaf, sfdceLeaf], [fullLime, sfdceLime], [fullYellow, sfdceYellow], [fullOrange, sfdceOrange], [fullRed, sfdceRed]
]
const fullPts = fullLevels.flatMap(l => l[0].map(p => [p[0], p[1], p[2], l[1]]))
fullPts.sort((a, b) => b[2] - a[2])

const usedLevels = new Set([...fullPts, ...mediumPts].map(d => d[3]))
usedLevels.forEach(ballGradient)

drawBalls(gA, fullPts, xA, yA, rFull)

frame(95, 52, 652, 608, '#888', 1.6)

const axisXA = d3.scaleLinear().domain([905, 898]).range([90, 650])
const axisYA = d3.scaleLinear().domain([246, 228]).range([53, 605])
axisLabels(d3.axisBottom(axisXA).tickValues(ticksAX), 0, 619, 17.5)
axisLabels(d3.axisLeft(axisYA).tickValues(ticksAY), 91, 0, 17.5)

// panel B
const gB = svg.append('g').attr('filter', 'url(#soft)')
drawBalls(gB, mediumPts, xB, yB, rMedium)
svg.append('g').selectAll(null)
    .data(d3.range(904, 898, -1))
    .join('line')
    .attr('x1', d => xB(d)).attr('x2', d => xB(d))
    .attr('y1', 52).attr('y2', 610)
    .attr('stroke', '#888').attr('stroke-width', 1.5)
svg.append('g').selectAll(null)
    .data(d3.range(245, 228, -1))
    .join('line')
    .attr('x1', 711).attr('x2', 1269)
    .attr('y1', d => yB(d)).attr('y2', d => yB(d))
    .attr('stroke', '#888').attr('stroke-width', 1.5)
frame(711, 52, 1269, 610, '#888', 1.6)

const axisXB = d3.scaleLinear().domain([905, 898]).range([708, 1268])
const axisYB = d3.scaleLinear().domain([246, 228]).range([55, 607])
axisLabels(d3.axisBottom(axisXB).tickValues(ticksAX), 0, 619, 17.5)
axisLabels(d3.axisLeft(axisYB).tickValues(ticksAY), 709, 0, 17.5)

// panel C
frame(90, 716, 649, 1272, '#888', 1.6)
svg.append('line')
    .attr('x1', xC(900)).attr('x2', xC(900))
    .attr('y1', 716).attr('y2', 1272)
    .attr('stroke', '#888').attr('stroke-width', 1.4)
svg.append('line')
    .attr('x1', 90).attr('x2', 649)
    .attr('y1', yC(225)).attr('y2', yC(225))
    .attr('stroke', '#888').attr('stroke-width', 1.4)
const axisXC = d3.scaleLinear().domain([910, 890]).range([90, 647])
const axisYC = d3.scaleLinear().domain([250, 200]).range([716, 1268])
axisLabels(d3.axisBottom(axisXC).tickValues(ticksCX), 0, 1279, 17.5)
axisLabels(d3.axisLeft(axisYC).tickValues(ticksCY), 87, 0, 17.5)

frame(225, 752, 433, 961, '#333', 1.5)
axisLabels(d3.axisBottom(xInset).tickValues(ticksInsetX), 0, 962, 12)
axisLabels(d3.axisLeft(yInset).tickValues(ticksInsetY), 222, 0, 12)

svg.append('g').selectAll(null)
    .data(reasonablePts)
    .join('circle')
    .attr('cx', d => xInset(d[0]))
    .attr('cy', d => yInset(d[1]))
    .attr('r', 3)
    .attr('fill', ballColor(d3.max(reasonablePts, d => d[3])))

arrow(250, 1010, 331, 921)

svg.append('rect')
    .attr('x', 163).attr('y', 1011)
    .attr('width', 184).attr('height', 118)
    .attr('fill', 'white')
    .attr('stroke', '#231f20')
    .attr('stroke-width', 1.3)
solutionRows.forEach((r, i) => {
    const rowY = [1034, 1063, 1091, 1119][i]
    label(170, rowY, r[0], 20, 'start', 'arial')
    label(r[2], rowY, r[1], 18, 'start', 'arial')
})

// epsilon boxes
epsilonBox(483, 64, 635, 184, epsilonA, [82, 110, 139, 167], 507)
epsilonBox(1103, 66, 1253, 181, epsilonB, [85, 113, 141, 170], 1127)
epsilonBox(491, 727, 637, 843, epsilonC, [744, 773, 801, 829], 515)

// titles and axis names
label(30, 29, 'A', 27)
label(680, 29, 'B', 27)
label(27, 689, 'C', 27)
title(165, 553, 37, 'Full Precision - 65,699 Pareto Solutions')
title(789, 1196, 38, 'Medium Precision - 300 Pareto Solutions')
title(181, 586, 705, 'Reasonable Precision - 1 Pareto Solution')

label(375, 660, 'NSE', 21.5)
arrow(366, 653, 298, 653)
label(981, 660, 'NSE', 21.5)
arrow(968, 653, 901, 653)
label(343, 1323, 'NSE', 21.5)
arrow(330, 1316, 263, 1316)

label(0, 0, 'TRMSE', 21.5, 'middle').attr('transform', 'translate(33, 316) rotate(-90)')
arrow(23, 362, 23, 430)
label(0, 0, 'TRMSE', 21.5, 'middle').attr('transform', 'translate(29, 987) rotate(-90)')
arrow(18, 1033, 18, 1100)

// legend
frame(760, 715, 1205, 981, '#333', 1.5)
label(775, 750, 'Legend:', 21)
label(986, 791, 'SFDCE', 22)
arrow(973, 782, 905, 782)

const xLegend = d3.scaleLinear().domain([0, 12]).range([783, 1178])
const legendSteps = d3.range(0, 12, 0.2)
svg.append('g').selectAll(null)
    .data(legendSteps)
    .join('rect')
    .attr('x', d => xLegend(d))
    .attr('y', 800)
    .attr('width', xLegend(0.2) - xLegend(0) + 0.5)
    .attr('height', 23)
    .attr('fill', d => legendColor(d))

const legendLabelX = d3.scaleLinear().domain(legendSfdceTicks).range([786, 878, 975, 1073, 1175])
svg.append('g').selectAll(null)
    .data(legendSfdceTicks)
    .join('text')
    .attr('x', d => legendLabelX(d))
    .attr('y', 842)
    .attr('text-anchor', 'middle')
    .style('font-size', '17.5px')
    .text(d => d === 0 ? '0.00' : d.toFixed(1))

label(912, 890, 'ROCE', 21.5)
arrow(977, 882, 1045, 882)

const xRoce = d3.scaleOrdinal().domain(legendRoce).range([917, 955, 988, 1018, 1043])
svg.append('g').selectAll(null)
    .data(legendRoce)
    .join('circle')
    .attr('cx', d => xRoce(d))
    .attr('cy', 921)
    .attr('r', d => rLegend(d))
    .attr('fill', (d, i) => i % 2 ? '#bcbdc0' : '#58595b')
    .attr('stroke', (d, i) => i % 2 ? 'none' : '#111')
    .attr('stroke-width', 1.5)

svg.append('g').selectAll(null)
    .data(legendRoce.filter((d, i) => i % 2 === 0))
    .join('text')
    .attr('x', d => xRoce(d) + (d === 6.2 ? -6 : -1))
    .attr('y', 957)
    .attr('text-anchor', 'middle')
    .style('font-size', '17.5px')
    .text(d => d === 0 ? '0.00' : d.toFixed(1))
</script>
</body>
</html>
